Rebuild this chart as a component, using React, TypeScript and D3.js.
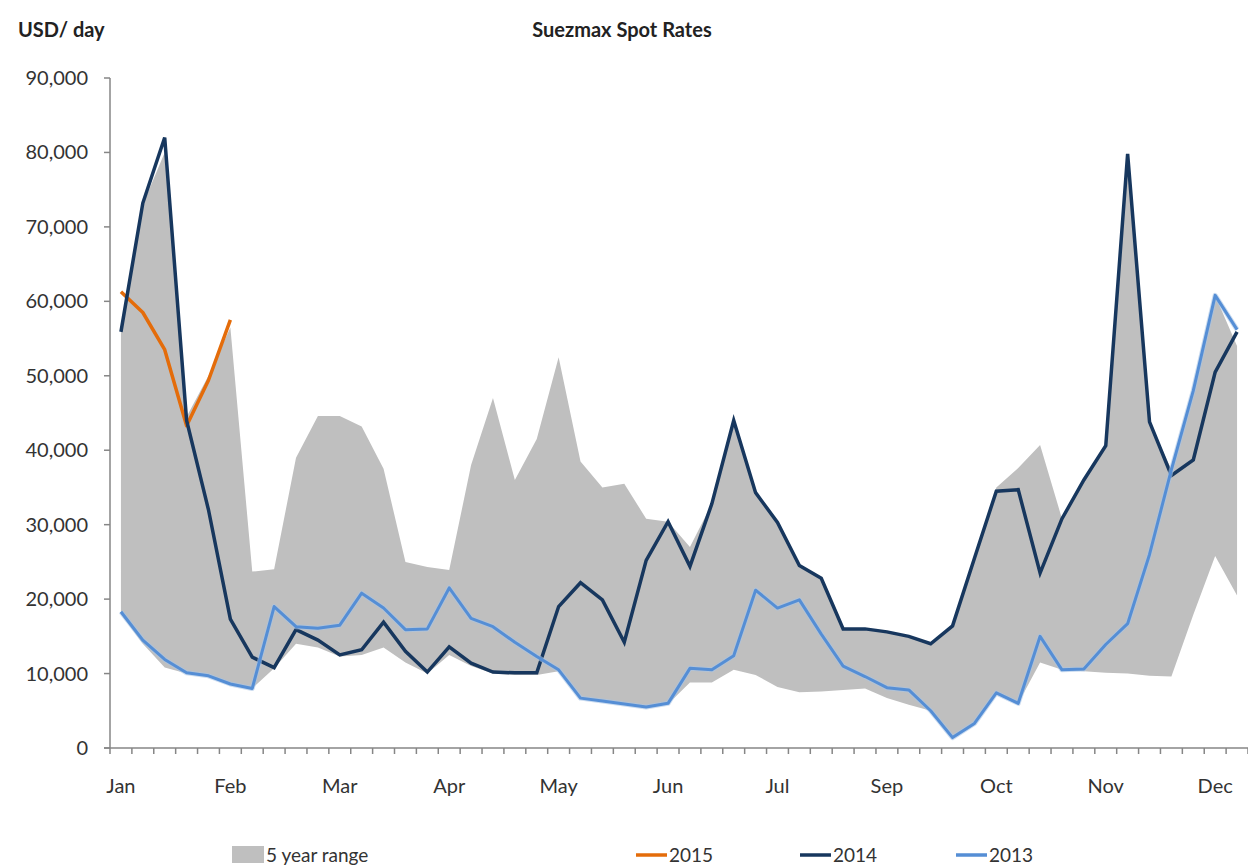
import React from "react";
import * as d3 from "d3";

// ---- data ----
const weeks = [
  1, 2, 3, 4, 5, 6, 7, 8, 9, 10, 11, 12, 13, 14, 15, 16, 17, 18, 19, 20, 21, 22, 23, 24, 25, 26,
  27, 28, 29, 30, 31, 32, 33, 34, 35, 36, 37, 38, 39, 40, 41, 42, 43, 44, 45, 46, 47, 48, 49, 50, 51, 52,
];
const monthLabels = ["Jan", "Feb", "Mar", "Apr", "May", "Jun", "Jul", "Sep", "Oct", "Nov", "Dec"];
const monthLabelWeeks = [1, 6, 11, 16, 21, 26, 31, 36, 41, 46, 51];
const yTicks = [0, 10000, 20000, 30000, 40000, 50000, 60000, 70000, 80000, 90000];

const rates2015: (number | null)[] = [61300, 58500, 53500, 43300, 49400, 57500];

const rates2014 = [
  55900, 73200, 82000, 44000, 32000, 17300, 12200, 10800, 15900, 14500, 12500, 13200, 16900,
  13000, 10200, 13600, 11400, 10200, 10100, 10100, 19000, 22200, 19900, 14200, 25200, 30400,
  24400, 32800, 44000, 34300, 30300, 24500, 22800, 16000, 16000, 15600, 15000, 14000, 16400,
  25500, 34500, 34700, 23500, 30800, 36000, 40600, 79800, 43800, 36600, 38700, 50500, 55900,
];

const rates2013 = [
  18300, 14500, 11900, 10100, 9700, 8600, 8000, 19000, 16300, 16100, 16500, 20800, 18800,
  15900, 16000, 21500, 17400, 16300, 14200, 12300, 10500, 6700, 6300, 5900, 5500, 6000,
  10700, 10500, 12400, 21200, 18800, 19900, 15300, 11000, 9600, 8100, 7800, 5000, 1400,
  3300, 7400, 6000, 15000, 10500, 10600, 13900, 16700, 26000, 37400, 48000, 60800, 56200,
];

const rangeMax = [
  56000, 73000, 80000, 44500, 50000, 56500, 23700, 24000, 39000, 44600, 44600, 43200, 37500,
  25000, 24300, 23900, 38000, 47000, 36000, 41500, 52500, 38500, 35000, 35500, 30800, 30400,
  27000, 32800, 44000, 34300, 30300, 24500, 22800, 16000, 16000, 15600, 15000, 14000, 16400,
  25500, 35000, 37600, 40700, 30800, 36000, 40600, 79800, 43800, 37400, 48000, 60800, 54000,
];

const rangeMin = [
  18000, 14000, 10800, 10000, 9600, 8500, 8000, 10700, 14000, 13500, 12300, 12500, 13500,
  11500, 10000, 12500, 11000, 10000, 9800, 9800, 10300, 6600, 6200, 5800, 5400, 5900,
  8800, 8800, 10500, 9800, 8200, 7500, 7600, 7800, 8000, 6700, 5800, 5000, 1400,
  3300, 7400, 6000, 11500, 10500, 10300, 10100, 10000, 9700, 9600, 17900, 25800, 20500,
];

// ---- layout ----
const W = 1248;
const H = 865;
const plotLeft = 110;
const plotRight = 1248;
const plotTop = 78;
const plotBottom = 748;
const FONT = "Lato, 'Open Sans', 'DejaVu Sans', sans-serif";

const C2015 = "#E46C0A";
const C2014 = "#17375E";
const C2013 = "#558ED5";
const CGREY = "#BFBFBF";
const CAXIS = "#868686";

export default function App() {
  const x = d3.scaleBand<number>().domain(weeks).range([plotLeft, plotRight]).padding(0);
  const bw = x.bandwidth();
  const cx = (i: number) => (x(weeks[i]) as number) + bw / 2;
  const y = d3.scaleLinear().domain([0, 90000]).range([plotBottom, plotTop]);

  const lineGen = d3
    .line<number | null>()
    .defined((d) => d != null)
    .x((_, i) => cx(i))
    .y((d) => y(d as number))
    .curve(d3.curveLinear);

  const areaGen = d3
    .area<number>()
    .x((_, i) => cx(i))
    .y0((_, i) => y(rangeMin[i]))
    .y1((d) => y(d))
    .curve(d3.curveLinear);

  const fmt = d3.format(",");
  const boundaries = weeks.map((w) => x(w) as number).concat([plotRight]);

  return (
    <svg
      width={W}
      height={H}
      style={{ position: "absolute", left: 0, top: 0, background: "#fff" }}
      fontFamily={FONT}
    >
      <rect x={0} y={0} width={W} height={H} fill="#fff" />
      {/* titles */}
      <text x={18} y={37} fontSize={20} fontWeight={700} fill="#222">
        USD/ day
      </text>
      <text x={622} y={37} fontSize={20} fontWeight={700} fill="#222" textAnchor="middle">
        Suezmax Spot Rates
      </text>

      {/* 5 year range */}
      <path d={areaGen(rangeMax) || ""} fill={CGREY} stroke="none" />

      {/* series */}
      <path d={lineGen(rates2015) || ""} fill="none" stroke={C2015} strokeWidth={3.5} strokeLinejoin="round" />
      <path d={lineGen(rates2014) || ""} fill="none" stroke={C2014} strokeWidth={3.5} strokeLinejoin="miter" />
      <path d={lineGen(rates2013) || ""} fill="none" stroke="#A9C4E6" strokeWidth={5} strokeOpacity={0.6} strokeLinejoin="round" />
      <path d={lineGen(rates2013) || ""} fill="none" stroke={C2013} strokeWidth={3} strokeLinejoin="round" />

      {/* y axis */}
      <line x1={plotLeft} x2={plotLeft} y1={plotTop} y2={plotBottom} stroke={CAXIS} strokeWidth={1.5} />
      {yTicks.map((t) => (
        <g key={t}>
          <line x1={plotLeft - 6} x2={plotLeft} y1={y(t)} y2={y(t)} stroke={CAXIS} strokeWidth={1.5} />
          <text x={88} y={y(t) + 7} fontSize={20} fill="#333" textAnchor="end">
            {fmt(t)}
          </text>
        </g>
      ))}

      {/* x axis */}
      <line x1={plotLeft - 6} x2={plotRight} y1={plotBottom} y2={plotBottom} stroke={CAXIS} strokeWidth={1.5} />
      {boundaries.map((b, i) => (
        <line key={i} x1={b} x2={b} y1={plotBottom} y2={plotBottom + 6} stroke={CAXIS} strokeWidth={1.5} />
      ))}
      {monthLabels.map((m, i) => (
        <text key={m} x={cx(weeks.indexOf(monthLabelWeeks[i]))} y={793} fontSize={20} fill="#333" textAnchor="middle">
          {m}
        </text>
      ))}

      {/* legend */}
      <rect x={232} y={846} width={32} height={17} fill={CGREY} />
      <text x={266} y={862} fontSize={19} fill="#333">
        5 year range
      </text>
      <line x1={636} x2={667} y1={855} y2={855} stroke={C2015} strokeWidth={3.5} />
      <text x={669} y={862} fontSize={19} fill="#333">
        2015
      </text>
      <line x1={800} x2={831} y1={855} y2={855} stroke={C2014} strokeWidth={3.5} />
      <text x={833} y={862} fontSize={19} fill="#333">
        2014
      </text>
      <line x1={956} x2={987} y1={855} y2={855} stroke={C2013} strokeWidth={3.5} />
      <text x={989} y={862} fontSize={19} fill="#333">
        2013
      </text>
    </svg>
  );
}
